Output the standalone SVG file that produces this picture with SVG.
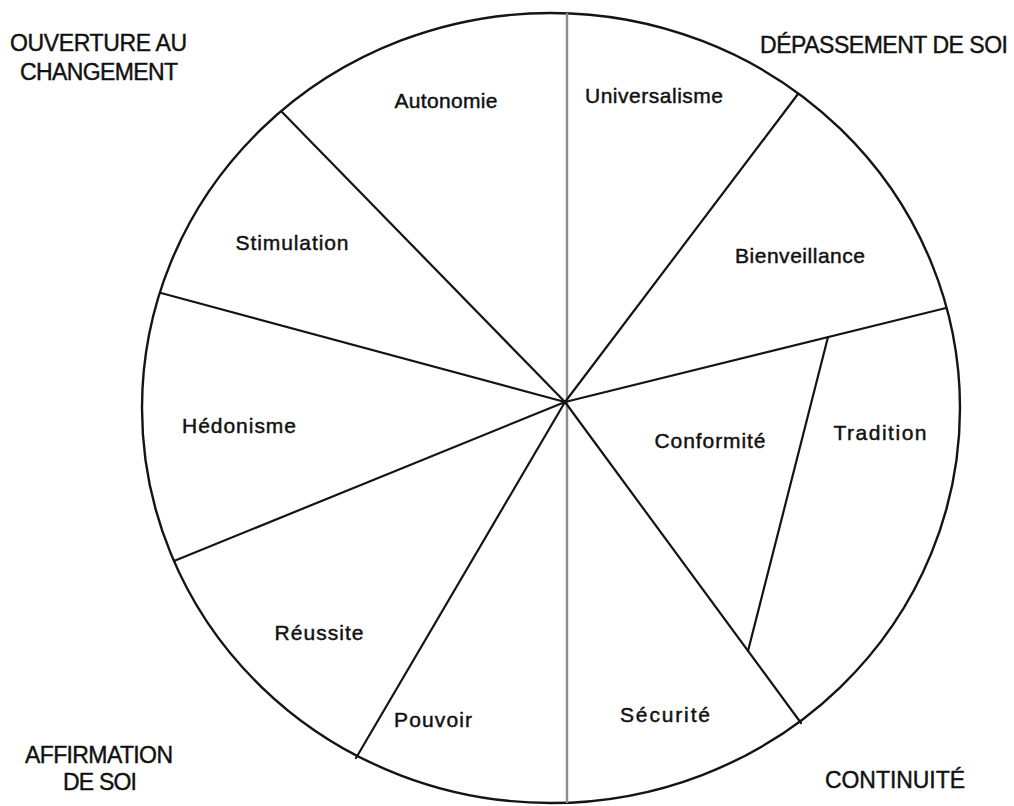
<svg xmlns="http://www.w3.org/2000/svg" width="1014" height="806" viewBox="0 0 1014 806">
  <style>
    .rim { fill: none; stroke: #141414; stroke-width: 2.4; }
    .spoke { stroke: #141414; stroke-width: 2.2; fill: none; stroke-linecap: round; }
    .axis { stroke: #8c8c8c; stroke-width: 2.4; }
    .lbl { font-family: "Liberation Sans", Arial, sans-serif; font-size: 21px; fill: #111; stroke: #111; stroke-width: 0.45; text-anchor: middle; }
    .pole { font-family: "Liberation Sans", Arial, sans-serif; font-size: 23px; fill: #111; stroke: #111; stroke-width: 0.4; text-anchor: middle; }
  </style>
  <rect width="1014" height="806" fill="#ffffff"/>

  <!-- outer wheel -->
  <ellipse id="wheel" class="rim" cx="551" cy="408" rx="409" ry="395"/>

  <!-- dividing lines between the values -->
  <g id="connectors">
    <line class="axis" x1="567" y1="13" x2="567" y2="803"/>
    <line class="spoke" x1="565" y1="402" x2="282" y2="112"/>
    <line class="spoke" x1="565" y1="402" x2="161" y2="293"/>
    <line class="spoke" x1="565" y1="402" x2="174" y2="561"/>
    <line class="spoke" x1="565" y1="402" x2="356" y2="758"/>
    <line class="spoke" x1="565" y1="402" x2="801" y2="723"/>
    <line class="spoke" x1="565" y1="402" x2="946" y2="308"/>
    <line class="spoke" x1="565" y1="402" x2="798" y2="94"/>
    <line class="spoke" x1="828" y1="337" x2="748" y2="651"/>
  </g>

  <!-- value sectors -->
  <g id="autonomie"><text class="lbl" x="446" y="108" textLength="103">Autonomie</text></g>
  <g id="universalisme"><text class="lbl" x="654" y="103" textLength="138">Universalisme</text></g>
  <g id="stimulation"><text class="lbl" x="292" y="250" textLength="113">Stimulation</text></g>
  <g id="bienveillance"><text class="lbl" x="800" y="263" textLength="130">Bienveillance</text></g>
  <g id="hedonisme"><text class="lbl" x="239" y="433" textLength="114">Hédonisme</text></g>
  <g id="conformite"><text class="lbl" x="710" y="448" textLength="111">Conformité</text></g>
  <g id="tradition"><text class="lbl" x="880" y="440" textLength="93">Tradition</text></g>
  <g id="reussite"><text class="lbl" x="319" y="640" textLength="89">Réussite</text></g>
  <g id="pouvoir"><text class="lbl" x="433" y="727" textLength="78">Pouvoir</text></g>
  <g id="securite"><text class="lbl" x="665" y="722" textLength="90">Sécurité</text></g>

  <!-- higher-order dimensions -->
  <g id="ouverture">
    <text class="pole" x="98.5" y="51" textLength="177">OUVERTURE AU</text>
    <text class="pole" x="99" y="80" textLength="158">CHANGEMENT</text>
  </g>
  <g id="depassement"><text class="pole" x="884" y="53" textLength="248">DÉPASSEMENT DE SOI</text></g>
  <g id="affirmation">
    <text class="pole" x="99" y="763" textLength="148">AFFIRMATION</text>
    <text class="pole" x="100" y="790" textLength="74">DE SOI</text>
  </g>
  <g id="continuite"><text class="pole" x="895" y="788" textLength="140">CONTINUITÉ</text></g>
</svg>
